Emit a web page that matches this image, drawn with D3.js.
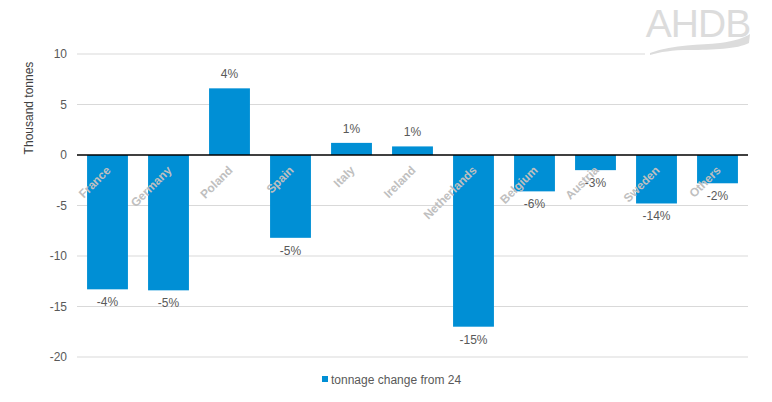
<!DOCTYPE html>
<html>
<head>
<meta charset="utf-8">
<script src="https://cdn.jsdelivr.net/npm/d3@7"></script>
<style>
  body { margin: 0; background: #fff; }
  svg { font-family: "Liberation Sans", Arial, sans-serif; }
</style>
</head>
<body>
<svg id="chart" width="772" height="402"></svg>
<script>
const countries = ["France", "Germany", "Poland", "Spain", "Italy", "Ireland", "Netherlands", "Belgium", "Austria", "Sweden", "Others"];
const tonnageChange = [-13.3, -13.4, 6.6, -8.2, 1.2, 0.85, -17.0, -3.6, -1.5, -4.8, -2.8];
const pctLabels = ["-4%", "-5%", "4%", "-5%", "1%", "1%", "-15%", "-6%", "-3%", "-14%", "-2%"];
const yTicks = [10, 5, 0, -5, -10, -15, -20];
const seriesName = "tonnage change from 24";

const svg = d3.select("#chart");
const plotLeft = 77, plotRight = 748, plotTop = 54, plotBottom = 357;

const x = d3.scaleBand().domain(countries).range([plotLeft, plotRight]).paddingInner(0.33).paddingOuter(0.165);
const y = d3.scaleLinear().domain([-20, 10]).range([plotBottom, plotTop]);

// gridlines
svg.append("g")
  .selectAll("line")
  .data(yTicks.filter(d => d !== 0))
  .join("line")
  .attr("x1", plotLeft).attr("x2", plotRight)
  .attr("y1", d => y(d)).attr("y2", d => y(d))
  .attr("stroke", "#d9d9d9").attr("stroke-width", 1);

// y axis labels
svg.append("g")
  .selectAll("text")
  .data(yTicks)
  .join("text")
  .attr("x", 67)
  .attr("y", d => y(d))
  .attr("dy", "0.35em")
  .attr("text-anchor", "end")
  .attr("font-size", 12)
  .attr("fill", "#595959")
  .text(d => d);

svg.append("text")
  .attr("transform", "translate(33,108) rotate(-90)")
  .attr("text-anchor", "middle")
  .attr("font-size", 12)
  .attr("fill", "#404040")
  .text("Thousand tonnes");

const data = countries.map((c, i) => ({ c, v: tonnageChange[i], p: pctLabels[i] }));

// bars
svg.append("g")
  .selectAll("rect")
  .data(data)
  .join("rect")
  .attr("x", d => x(d.c))
  .attr("width", x.bandwidth())
  .attr("y", d => y(Math.max(0, d.v)))
  .attr("height", d => Math.abs(y(d.v) - y(0)))
  .attr("fill", "#008fd5");

// zero line
svg.append("line")
  .attr("x1", plotLeft).attr("x2", plotRight)
  .attr("y1", y(0)).attr("y2", y(0))
  .attr("stroke", "#000").attr("stroke-width", 1.3);

// value labels
svg.append("g")
  .selectAll("text")
  .data(data)
  .join("text")
  .attr("x", d => x(d.c) + x.bandwidth() / 2)
  .attr("y", d => d.v >= 0 ? y(d.v) - 10 : y(d.v) + 17)
  .attr("text-anchor", "middle")
  .attr("font-size", 12)
  .attr("fill", "#595959")
  .text(d => d.p);

// category labels
svg.append("g")
  .selectAll("text")
  .data(data)
  .join("text")
  .attr("transform", d => `translate(${x(d.c) + x.bandwidth() / 2 + 4},${y(0) + 16}) rotate(-45)`)
  .attr("text-anchor", "end")
  .attr("font-size", 12)
  .attr("font-weight", "bold")
  .attr("fill", "#bfbfbf")
  .text(d => d.c);

// legend
const lg = svg.append("g").attr("transform", "translate(322,380)");
lg.append("rect").attr("x", 0).attr("y", -4).attr("width", 6).attr("height", 6).attr("fill", "#008fd5");
lg.append("text").attr("x", 9).attr("y", 0).attr("dy", "0.35em")
  .attr("font-size", 12).attr("fill", "#595959").text(seriesName);

// logo (white backing covers the end of the top gridline)
const logo = svg.append("g");
logo.append("rect").attr("x", 645).attr("y", 0).attr("width", 127).attr("height", 58).attr("fill", "#fff");
logo.append("text")
  .attr("x", 698).attr("y", 37)
  .attr("text-anchor", "middle")
  .attr("font-size", 39)
  .attr("fill", "#dcdcdc")
  .attr("letter-spacing", -1)
  .text("AHDB");
logo.append("path")
  .attr("d", "M650,53 C675,44 700,45 720,43 C735,41 744,38 750,34 L749,43 C738,49 712,50 690,50 C672,50 660,52 650,55 Z")
  .attr("fill", "#dcdcdc");
</script>
</body>
</html>
